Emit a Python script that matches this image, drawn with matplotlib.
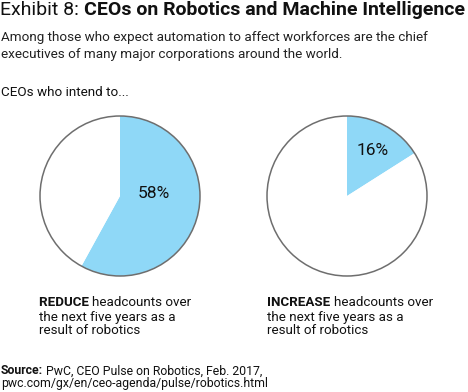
import matplotlib
matplotlib.use("Agg")
import matplotlib.pyplot as plt
from matplotlib.patches import Circle

W, H = 468, 392
plt.rcParams['font.family'] = ['Roboto', 'DejaVu Sans']

# data
shares = [58, 16]
actions = ["REDUCE", "INCREASE"]
tail_lines = ["headcounts over", "the next five years as a", "result of robotics"]
BLUE = "#8fd8f7"
EDGE = "#6e6e6e"
INK = "#111111"

fig = plt.figure(figsize=(W / 100, H / 100), dpi=100)
ax = fig.add_axes([0, 0, 1, 1])

centers = [(120, 196), (347, 196)]
label_pos = [(154, 193), (373, 150)]
R = 80

for (cx, cy), share, (lx, ly) in zip(centers, shares, label_pos):
    ax.pie([share, 100 - share], colors=[BLUE, "white"], startangle=90,
           counterclock=False, center=(cx, H - cy), radius=R,
           wedgeprops=dict(linewidth=0))
    ax.add_patch(Circle((cx, H - cy), R, fill=False, edgecolor=EDGE, linewidth=1.1))
    ax.text(lx, H - ly, f"{share}%", ha="center", va="center", fontsize=12.5, color=INK)

ax.set_xlim(0, W)
ax.set_ylim(0, H)
ax.set_aspect("equal")
ax.axis("off")

renderer = fig.canvas.get_renderer()


def px(x, y):
    return x / W, 1 - y / H


# title: normal + bold pieces
t1 = fig.text(*px(0, 10), "Exhibit 8: ", fontsize=14, va="center", ha="left", color=INK)
bb = t1.get_window_extent(renderer)
fig.text(bb.x1 / W, 1 - 10 / H, "CEOs on Robotics and Machine Intelligence",
         fontsize=14, fontweight="bold", va="center", ha="left", color=INK)

fig.text(*px(1, 46), "Among those who expect automation to affect workforces are the chief\n"
         "executives of many major corporations around the world.",
         fontsize=9.7, va="center", ha="left", linespacing=1.35, color="#222222")

fig.text(*px(1, 93), "CEOs who intend to...", fontsize=9.7, va="center", ha="left", color=INK)

for x0, act in zip([39, 267], actions):
    ta = fig.text(*px(x0, 302), act + " ", fontsize=9.6, fontweight="bold", va="center",
                  ha="left", color=INK)
    b = ta.get_window_extent(renderer)
    fig.text(b.x1 / W, 1 - 302 / H, tail_lines[0], fontsize=9.6, va="center", ha="left", color=INK)
    fig.text(*px(x0, 317), tail_lines[1], fontsize=9.6, va="center", ha="left", color=INK)
    fig.text(*px(x0, 331), tail_lines[2], fontsize=9.6, va="center", ha="left", color=INK)

ts = fig.text(*px(1, 371), "Source:", fontsize=8.8, fontweight="bold", va="center", ha="left",
              color=INK)
b = ts.get_window_extent(renderer)
fig.text(b.x1 / W, 1 - 371 / H, " PwC, CEO Pulse on Robotics, Feb. 2017,", fontsize=8.8,
         va="center", ha="left", color=INK)
fig.text(*px(1, 383), "pwc.com/gx/en/ceo-agenda/pulse/robotics.html", fontsize=8.8,
         va="center", ha="left", color=INK)

fig.savefig("out.png", dpi=100)
